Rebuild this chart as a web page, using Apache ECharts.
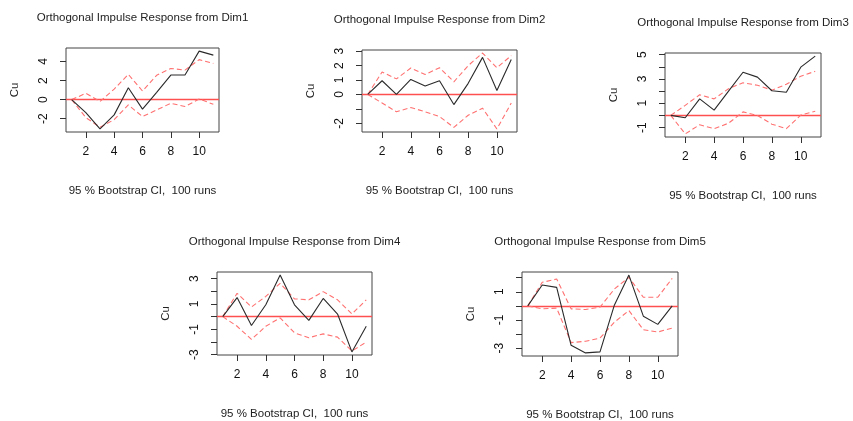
<!DOCTYPE html>
<html>
<head>
<meta charset="utf-8">
<script src="https://cdn.jsdelivr.net/npm/echarts@6/dist/echarts.min.js"></script>
<style>
  html, body { margin: 0; padding: 0; background: #ffffff; }
  #chart { width: 853px; height: 421px; }
</style>
</head>
<body>
<div id="chart"></div>
<script>
// Horizon (steps ahead) and its tick labels
const steps = [1, 2, 3, 4, 5, 6, 7, 8, 9, 10, 11];
const xTickValues = [2, 4, 6, 8, 10];

const titlePrefix = 'Orthogonal Impulse Response from ';
const impulseNames = ['Dim1', 'Dim2', 'Dim3', 'Dim4', 'Dim5'];
const responseName = 'Cu';
const ciCaption = '95 % Bootstrap CI,  100 runs';

// Response of Cu to a shock in each dimension, with bootstrap bands
const dim1Response = [0, -1.36, -3.07, -1.60, 1.25, -1.00, 0.77, 2.58, 2.58, 5.09, 4.67];
const dim1Upper    = [0, 0.66, -0.20, 1.10, 2.65, 0.90, 2.55, 3.27, 3.10, 4.20, 3.80];
const dim1Lower    = [0, -1.88, -2.90, -2.10, -0.56, -1.78, -1.08, -0.38, -0.73, 0.07, -0.49];

const dim2Response = [0, 0.95, 0.00, 1.04, 0.59, 0.95, -0.70, 0.77, 2.57, 0.27, 2.42];
const dim2Upper    = [0, 1.56, 1.08, 1.83, 1.38, 1.85, 0.88, 2.00, 2.87, 1.85, 2.69];
const dim2Lower    = [0, -0.59, -1.20, -0.90, -1.20, -1.53, -2.28, -1.44, -0.95, -2.39, -0.59];

const dim3Response = [0, -0.19, 1.36, 0.43, 2.00, 3.55, 3.15, 2.03, 1.90, 3.97, 4.88];
const dim3Upper    = [0, 0.83, 1.70, 1.36, 2.20, 2.69, 2.48, 2.08, 2.56, 3.23, 3.63];
const dim3Lower    = [0, -1.52, -0.77, -1.09, -0.64, 0.29, 0.00, -0.72, -1.09, 0.03, 0.35];

const dim4Response = [0, 1.51, -0.70, 0.94, 3.29, 0.94, -0.29, 1.44, 0.21, -2.79, -0.76];
const dim4Upper    = [0, 1.85, 0.76, 1.60, 2.64, 1.41, 1.33, 1.98, 1.33, 0.21, 1.33];
const dim4Lower    = [0, -0.76, -1.80, -0.76, -0.10, -1.28, -1.67, -1.36, -1.62, -2.72, -2.01];

const dim5Response = [0, 1.48, 1.31, -2.79, -3.33, -3.26, 0.07, 2.18, -0.73, -1.31, 0.00];
const dim5Upper    = [0, 1.67, 1.90, -0.21, -0.26, -0.09, 1.20, 2.02, 0.61, 0.61, 1.95];
const dim5Lower    = [0, -0.21, -0.16, -2.60, -2.51, -2.28, -1.15, -0.33, -1.69, -1.85, -1.57];

// Y tick marks and the subset that carries a label
const dim1YTicks = [-2, 0, 2, 4];            const dim1YLabels = [-2, 0, 2, 4];
const dim2YTicks = [-2, -1, 0, 1, 2, 3];     const dim2YLabels = [-2, 0, 1, 2, 3];
const dim3YTicks = [-1, 0, 1, 2, 3, 4, 5];   const dim3YLabels = [-1, 1, 3, 5];
const dim4YTicks = [-3, -2, -1, 0, 1, 2, 3]; const dim4YLabels = [-3, -1, 1, 3];
const dim5YTicks = [-3, -2, -1, 0, 1, 2];    const dim5YLabels = [-3, -1, 1];

// Plot-region boxes: [left, top, width, height]
const boxes = [
  [66, 48, 153, 84],
  [362, 50, 155, 82],
  [665, 53, 156, 84],
  [217, 272, 155, 83],
  [522, 272, 156, 84]
];

const panels = [
  { resp: dim1Response, up: dim1Upper, lo: dim1Lower, yt: dim1YTicks, yl: dim1YLabels },
  { resp: dim2Response, up: dim2Upper, lo: dim2Lower, yt: dim2YTicks, yl: dim2YLabels },
  { resp: dim3Response, up: dim3Upper, lo: dim3Lower, yt: dim3YTicks, yl: dim3YLabels },
  { resp: dim4Response, up: dim4Upper, lo: dim4Lower, yt: dim4YTicks, yl: dim4YLabels },
  { resp: dim5Response, up: dim5Upper, lo: dim5Lower, yt: dim5YTicks, yl: dim5YLabels }
];

const FONT = '"Liberation Sans", Arial, Helvetica, sans-serif';
const pairs = (ys) => steps.map((x, i) => [x, ys[i]]);

// R-style axis extent: data range widened by 4% on each side
function padded(values) {
  const lo = Math.min(...values), hi = Math.max(...values);
  const d = (hi - lo) * 0.04;
  return [lo - d, hi + d];
}

const grids = [], xAxes = [], yAxes = [], series = [], titles = [];

panels.forEach((p, k) => {
  const [left, top, w, h] = boxes[k];
  grids.push({
    left: left, top: top, width: w, height: h,
    show: true, borderColor: '#444', borderWidth: 1, backgroundColor: 'transparent'
  });
  const xr = padded(steps);
  xAxes.push({
    gridIndex: k, type: 'value', min: xr[0], max: xr[1], position: 'bottom',
    axisLine: { show: false, onZero: false },
    splitLine: { show: false },
    axisTick: { show: true, length: 6, customValues: xTickValues, lineStyle: { color: '#333' } },
    axisLabel: { customValues: xTickValues, margin: 14, fontSize: 12, color: '#111', fontFamily: FONT }
  });
  const yr = padded(p.resp.concat(p.up, p.lo));
  yAxes.push({
    gridIndex: k, type: 'value', min: yr[0], max: yr[1], position: 'left',
    name: responseName, nameLocation: 'middle', nameGap: 45, nameRotate: 90,
    nameTextStyle: { fontSize: 11.5, color: '#222', fontFamily: FONT },
    axisLine: { show: false, onZero: false },
    splitLine: { show: false },
    axisTick: { show: true, length: 6, customValues: p.yt, lineStyle: { color: '#333' } },
    axisLabel: { customValues: p.yl, rotate: 90, margin: 16, fontSize: 12, color: '#111', fontFamily: FONT }
  });

  const bandStyle = { color: '#ff7070', width: 1.1, type: [5, 3] };
  // zero reference line, drawn under the curves
  series.push({
    type: 'line', xAxisIndex: k, yAxisIndex: k, data: [], silent: true, z: 1,
    markLine: {
      silent: true, symbol: 'none', label: { show: false }, z: 1,
      lineStyle: { color: '#ff5050', width: 1.3, type: 'solid', opacity: 1 },
      data: [{ yAxis: 0 }]
    }
  });
  series.push({
    type: 'line', xAxisIndex: k, yAxisIndex: k, data: pairs(p.up),
    showSymbol: false, silent: true, lineStyle: bandStyle, z: 2
  });
  series.push({
    type: 'line', xAxisIndex: k, yAxisIndex: k, data: pairs(p.lo),
    showSymbol: false, silent: true, lineStyle: bandStyle, z: 2
  });
  series.push({
    type: 'line', xAxisIndex: k, yAxisIndex: k, data: pairs(p.resp),
    showSymbol: false, silent: true, lineStyle: { color: '#2a2a2a', width: 1.1 }, z: 3
  });

  const cx = left + w / 2;
  titles.push({
    text: titlePrefix + impulseNames[k], left: cx, top: top - 36, textAlign: 'center', padding: 0,
    textStyle: { fontSize: 11.5, fontWeight: 'normal', color: '#222', fontFamily: FONT }
  });
  titles.push({
    text: ciCaption, left: cx, top: top + h + 53, textAlign: 'center', padding: 0,
    textStyle: { fontSize: 11.5, fontWeight: 'normal', color: '#222', fontFamily: FONT }
  });
});

const chart = echarts.init(document.getElementById('chart'), null, { renderer: 'canvas' });
chart.setOption({
  animation: false,
  backgroundColor: '#ffffff',
  title: titles,
  grid: grids,
  xAxis: xAxes,
  yAxis: yAxes,
  series: series
});
</script>
</body>
</html>
